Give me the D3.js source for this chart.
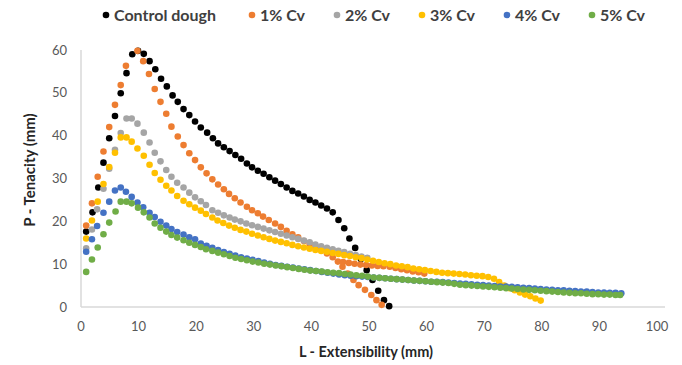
<!DOCTYPE html>
<html>
<head>
<meta charset="utf-8">
<script src="https://cdn.jsdelivr.net/npm/d3@7"></script>
<style>
  html, body { margin: 0; padding: 0; background: #fff; }
  svg { display: block; font-family: Lato, "Open Sans", sans-serif; }
</style>
</head>
<body>
<div id="chart"></div>
<script>
// L (mm), P (mm) pairs
const controlDough = [[0.9,17.6],[2.0,22.1],[3.0,27.9],[3.9,33.7],[4.9,39.4],[5.9,44.6],[6.9,49.9],[7.9,54.6],[8.9,59.0],[9.9,59.8],[10.9,59.1],[11.9,57.4],[12.9,55.5],[13.9,53.3],[14.9,51.5],[15.9,49.4],[16.8,47.9],[17.8,46.2],[18.8,44.8],[19.8,43.3],[20.8,41.9],[21.9,40.7],[22.9,39.4],[23.8,38.2],[24.8,37.3],[25.8,36.4],[26.8,35.5],[27.8,34.6],[28.8,33.5],[29.7,32.6],[30.7,31.8],[31.7,31.1],[32.7,30.3],[33.7,29.5],[34.7,28.7],[35.7,27.9],[36.7,27.1],[37.7,26.5],[38.7,25.8],[39.7,25.0],[40.7,24.4],[41.7,23.7],[42.7,23.0],[43.7,22.1],[44.7,20.3],[45.7,18.4],[46.6,16.0],[47.6,13.8],[48.6,11.2],[49.6,8.6],[50.6,6.3],[51.6,3.8],[52.6,1.6],[53.5,0.2]];

const cv1 = [[0.9,19.0],[1.9,24.2],[2.9,30.4],[3.9,36.3],[4.9,42.0],[5.9,47.2],[6.9,51.8],[7.8,56.3],[9.8,59.8],[10.8,57.4],[11.8,54.4],[12.8,50.9],[13.8,47.9],[14.8,45.1],[15.7,42.1],[16.8,39.8],[17.8,37.8],[18.8,35.9],[19.8,34.3],[20.8,32.6],[21.8,31.2],[22.8,29.8],[23.8,28.6],[24.8,27.5],[25.7,26.4],[26.7,25.4],[27.7,24.4],[28.8,23.4],[29.7,22.6],[30.7,21.9],[31.6,21.1],[32.6,20.3],[33.7,19.5],[34.7,18.7],[35.7,17.8],[36.7,17.0],[37.7,16.3],[38.7,15.4],[39.7,14.7],[40.7,14.0],[41.7,13.3],[42.7,12.5],[43.7,11.6],[44.6,10.6],
  [45.4,9.4],[46.3,7.8],[47.3,6.3],[48.2,5.1],[49.3,4.0],[50.4,2.8],[51.3,1.6],[52.2,0.5],
  [45.5,10.5],[46.5,10.3],[47.5,10.1],[48.5,9.9],[49.5,9.8],[50.5,9.7],[51.5,9.6],[52.5,9.5],[53.6,9.4],[54.6,9.1],[55.6,8.8],[56.6,8.6],[57.6,8.3],[58.6,8.1],[59.6,7.8]];

const cv2 = [[0.9,13.7],[1.9,18.1],[2.8,22.8],[3.9,27.6],[4.9,32.3],[5.9,36.7],[6.9,40.6],[7.9,44.0],[8.8,44.0],[9.8,42.8],[10.9,40.7],[11.9,38.4],[12.8,36.0],[13.8,34.0],[14.8,32.0],[15.7,30.4],[16.7,29.0],[17.8,27.9],[18.8,26.7],[19.8,25.6],[20.8,24.7],[21.7,23.8],[22.8,22.6],[23.8,22.0],[24.8,21.4],[25.8,20.9],[26.7,20.4],[27.7,20.0],[28.7,19.5],[29.7,19.1],[30.7,18.7],[31.7,18.3],[32.7,17.9],[33.7,17.5],[34.7,17.1],[35.7,16.7],[36.7,16.3],[37.7,15.9],[38.7,15.5],[39.7,15.1],[40.7,14.6],[41.7,14.2],[42.7,13.8],[43.7,13.5],[44.7,13.1],[45.7,12.8],[46.7,12.4],[47.7,12.1],[48.7,11.8],[49.7,11.5]];

const cv3 = [[0.9,16.0],[1.9,20.2],[2.9,24.6],[3.9,28.7],[4.9,32.7],[5.9,36.0],[6.9,39.6],[7.9,39.6],[8.8,38.6],[9.8,37.0],[10.9,35.3],[11.9,33.2],[12.8,31.3],[13.8,29.7],[14.8,28.3],[15.7,27.2],[16.7,25.9],[17.8,24.8],[18.8,24.0],[19.8,23.2],[20.8,22.5],[21.7,21.7],[22.8,20.9],[23.7,20.2],[24.7,19.6],[25.7,19.0],[26.7,18.5],[27.7,18.0],[28.7,17.6],[29.7,17.1],[30.7,16.7],[31.7,16.3],[32.7,15.9],[33.7,15.5],[34.7,15.2],[35.7,14.9],[36.7,14.5],[37.7,14.2],[38.7,13.9],[39.7,13.6],[40.7,13.3],[41.7,13.1],[42.7,12.9],[43.7,12.6],[44.7,12.4],[45.7,12.1],[46.7,11.9],[47.7,11.6],[48.7,11.4],[49.7,11.1],[50.7,10.8],[51.7,10.5],[52.7,10.2],[53.7,10.0],[54.7,9.7],[55.7,9.5],[56.7,9.3],[57.7,9.0],[58.7,8.8],[59.7,8.6],[60.7,8.4],[61.7,8.2],[62.7,8.0],[63.7,7.9],[64.7,7.8],[65.7,7.7],[66.7,7.6],[67.7,7.4],[68.7,7.3],[69.7,7.2],[70.7,7.0],[71.7,6.6],[72.6,5.8],[73.5,5.0],[74.4,4.4],[75.3,3.9],[76.2,3.4],[77.1,2.9],[78.0,2.5],[78.9,2.0],[79.8,1.5]];

const cv4 = [[0.9,12.9],[1.9,15.8],[2.8,18.9],[3.9,22.0],[4.9,24.6],[5.9,27.2],[6.9,27.9],[7.8,26.9],[8.8,25.7],[9.8,24.4],[10.8,23.3],[11.9,22.0],[12.8,21.0],[13.8,19.9],[14.8,19.0],[15.7,18.2],[16.7,17.5],[17.8,16.9],[18.8,16.3],[19.8,15.8],[20.8,14.8],[21.8,14.3],[22.8,13.8],[23.8,13.3],[24.8,12.8],[25.8,12.4],[26.8,12.0],[27.8,11.6],[28.8,11.3],[29.8,11.0],[30.8,10.7],[31.8,10.4],[32.8,10.1],[33.8,9.8],[34.8,9.6],[35.8,9.4],[36.8,9.2],[37.8,9.0],[38.8,8.8],[39.8,8.6],[40.8,8.4],[41.8,8.2],[42.8,8.0],[43.8,7.8],[44.8,7.6],[45.8,7.4],[46.8,7.3],[47.8,7.2],[48.8,7.1],[49.8,7.0],[50.8,6.9],[51.8,6.8],[52.8,6.7],[53.8,6.6],[54.8,6.5],[55.8,6.4],[56.8,6.3],[57.8,6.2],[58.8,6.1],[59.8,6.0],[60.8,5.9],[61.8,5.9],[62.8,5.8],[63.8,5.7],[64.8,5.6],[65.8,5.5],[66.8,5.4],[67.8,5.3],[68.8,5.2],[69.8,5.1],[70.8,5.0],[71.8,4.9],[72.8,4.8],[73.8,4.8],[74.8,4.7],[75.8,4.6],[76.8,4.5],[77.8,4.4],[78.8,4.3],[79.8,4.2],[80.8,4.1],[81.8,4.0],[82.8,3.9],[83.8,3.9],[84.8,3.8],[85.8,3.7],[86.8,3.6],[87.8,3.6],[88.8,3.5],[89.8,3.4],[90.8,3.4],[91.8,3.3],[92.8,3.3],[93.8,3.2]];

const cv5 = [[0.9,8.2],[1.9,11.1],[2.9,13.9],[3.9,17.0],[4.9,19.7],[6.0,22.3],[6.9,24.6],[7.9,24.6],[8.8,24.2],[9.9,23.2],[10.9,22.1],[11.9,20.9],[12.8,19.5],[13.8,18.5],[14.8,17.6],[15.7,16.8],[16.7,16.2],[17.8,15.6],[18.8,15.0],[19.8,14.5],[20.8,14.0],[21.7,13.5],[22.8,13.1],[23.8,12.7],[24.8,12.3],[25.8,11.9],[26.8,11.5],[27.8,11.2],[28.8,10.9],[29.8,10.6],[30.8,10.4],[31.8,10.1],[32.8,9.9],[33.8,9.7],[34.8,9.5],[35.8,9.3],[36.8,9.1],[37.8,8.9],[38.8,8.7],[39.8,8.5],[40.8,8.4],[41.8,8.3],[42.8,8.1],[43.8,8.0],[44.8,7.9],[45.8,7.7],[46.8,7.6],[47.8,7.4],[48.8,7.3],[49.8,7.1],[50.8,6.9],[51.8,6.8],[52.8,6.7],[53.8,6.6],[54.8,6.5],[55.8,6.4],[56.8,6.3],[57.8,6.2],[58.8,6.1],[59.8,6.0],[60.8,5.9],[61.8,5.8],[62.8,5.7],[63.8,5.6],[64.8,5.4],[65.8,5.2],[66.8,5.1],[67.8,5.0],[68.8,4.9],[69.8,4.8],[70.8,4.7],[71.8,4.6],[72.8,4.5],[73.8,4.4],[74.8,4.3],[75.8,4.2],[76.8,4.1],[77.8,4.0],[78.8,3.9],[79.8,3.8],[80.8,3.7],[81.8,3.6],[82.8,3.5],[83.8,3.4],[84.8,3.3],[85.8,3.2],[86.8,3.2],[87.8,3.1],[88.8,3.0],[89.8,3.0],[90.8,2.9],[91.8,2.9],[92.8,2.8],[93.6,2.8]];

const seriesNames = ['Control dough', '1% Cv', '2% Cv', '3% Cv', '4% Cv', '5% Cv'];
const seriesColors = ['#000000', '#ED7D31', '#A5A5A5', '#FFC000', '#4472C4', '#70AD47'];
const seriesData = [controlDough, cv1, cv2, cv3, cv4, cv5];
const xTicks = [0, 10, 20, 30, 40, 50, 60, 70, 80, 90, 100];
const yTicks = [0, 10, 20, 30, 40, 50, 60];

const width = 682, height = 365;
const margin = { top: 50, right: 25, bottom: 58, left: 81 };

const svg = d3.select('#chart').append('svg')
    .attr('width', width)
    .attr('height', height);

const x = d3.scaleLinear().domain([0, 100]).range([margin.left, 657]);
const y = d3.scaleLinear().domain([0, 60]).range([height - margin.bottom, margin.top]);

// axis lines
svg.append('line')
    .attr('x1', x(0)).attr('x2', 665)
    .attr('y1', y(0)).attr('y2', y(0))
    .attr('stroke', '#d9d9d9').attr('stroke-width', 1.5);
svg.append('line')
    .attr('x1', x(0)).attr('x2', x(0))
    .attr('y1', y(0)).attr('y2', y(60))
    .attr('stroke', '#d9d9d9').attr('stroke-width', 1.5);

// tick labels
svg.append('g')
    .selectAll('text')
    .data(xTicks)
    .join('text')
    .attr('x', d => x(d))
    .attr('y', y(0) + 24)
    .attr('text-anchor', 'middle')
    .attr('font-size', 13)
    .attr('fill', '#595959')
    .text(d => d);

svg.append('g')
    .selectAll('text')
    .data(yTicks)
    .join('text')
    .attr('x', 67)
    .attr('y', d => y(d))
    .attr('dy', '0.35em')
    .attr('text-anchor', 'end')
    .attr('font-size', 13)
    .attr('fill', '#595959')
    .text(d => d);

// axis titles
svg.append('text')
    .attr('x', 366).attr('y', 357)
    .attr('text-anchor', 'middle')
    .attr('font-size', 14.5).attr('font-weight', 'bold')
    .attr('fill', '#262626')
    .text('L - Extensibility (mm)');

svg.append('text')
    .attr('transform', 'translate(35,170) rotate(-90)')
    .attr('text-anchor', 'middle')
    .attr('font-size', 15).attr('font-weight', 'bold')
    .attr('fill', '#262626')
    .text('P - Tenacity  (mm)');

// markers, drawn in series order so later series sit on top
seriesData.forEach((data, i) => {
    svg.append('g')
        .selectAll('circle')
        .data(data)
        .join('circle')
        .attr('cx', d => x(d[0]))
        .attr('cy', d => y(d[1]))
        .attr('r', 3.3)
        .attr('fill', seriesColors[i]);
});

// legend
const legendX = [106, 252, 337, 422, 507, 592];
const legend = svg.append('g')
    .selectAll('g')
    .data(seriesNames)
    .join('g')
    .attr('transform', (_, i) => `translate(${legendX[i]},15)`);
legend.append('circle')
    .attr('r', 3.3)
    .attr('fill', (_, i) => seriesColors[i]);
legend.append('text')
    .attr('x', 8)
    .attr('dy', '0.35em')
    .attr('font-size', 16).attr('font-weight', 'bold')
    .attr('fill', '#404040')
    .text(d => d);
</script>
</body>
</html>
